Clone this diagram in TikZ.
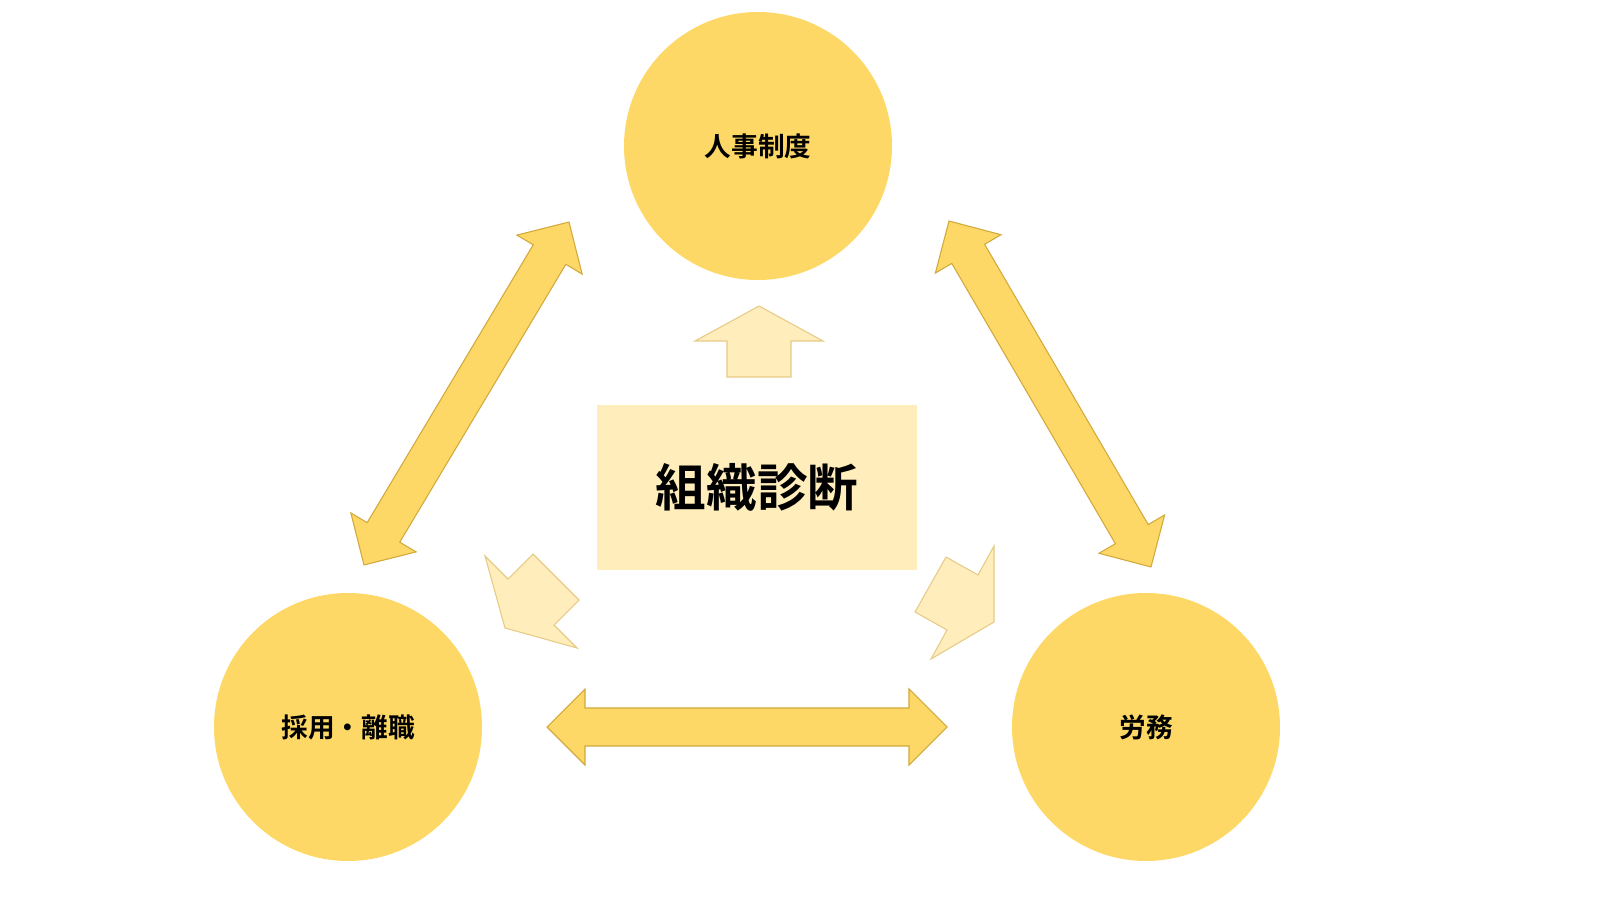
\documentclass[tikz,border=0pt]{standalone}
\usepackage{fontspec}
\setmainfont{Noto Sans CJK JP}[BoldFont={* Bold}]
\usetikzlibrary{calc}
\definecolor{circ}{HTML}{FDD866}
\definecolor{darkedge}{HTML}{D2A93C}
\definecolor{light}{HTML}{FFEDBB}
\definecolor{lightedge}{HTML}{E6CB86}
\tikzset{
  bub/.style={circle,fill=circ,minimum size=268*0.75pt,inner sep=0,font=\bfseries\fontsize{20}{24}\selectfont},
  big/.style={fill=circ,draw=darkedge,line width=0.8pt,line join=miter},
  lt/.style={fill=light,draw=lightedge,line width=0.8pt},
}
\newcommand\myarrow[2]{%
 \draw[big] (#1) -- ($($(#1)!0.095!(#2)$)!28.5pt!90:(#2)$) -- ($($(#1)!0.095!(#2)$)!14.25pt!90:(#2)$)
  -- ($($(#1)!0.905!(#2)$)!14.25pt!-90:(#1)$) -- ($($(#1)!0.905!(#2)$)!28.5pt!-90:(#1)$) -- (#2)
  -- ($($(#1)!0.905!(#2)$)!28.5pt!90:(#1)$) -- ($($(#1)!0.905!(#2)$)!14.25pt!90:(#1)$)
  -- ($($(#1)!0.095!(#2)$)!14.25pt!-90:(#2)$) -- ($($(#1)!0.095!(#2)$)!28.5pt!-90:(#2)$) -- cycle;}
\begin{document}
\begin{tikzpicture}[x=0.75pt,y=-0.75pt]
\useasboundingbox (0,0) rectangle (1600,902);
\node[bub] (top) at (758,146) {人事制度};
\node[bub] (bl) at (348,727) {採用・離職};
\node[bub] (br) at (1146,727) {労務};
\node[fill=light,minimum width=320*0.75pt,minimum height=165*0.75pt,font=\bfseries\fontsize{38}{44}\selectfont] (c) at (757,487) {組織診断};
\coordinate (l1) at (364,565); \coordinate (l2) at (569,222);
\coordinate (r1) at (949,221); \coordinate (r2) at (1151,567);
\coordinate (h1) at (547,727); \coordinate (h2) at (947,727);
\myarrow{l1}{l2}
\myarrow{r1}{r2}
\myarrow{h1}{h2}
\draw[lt] (759,306) -- (823,341) -- (791,341) -- (791,377) -- (727,377) -- (727,341) -- (695,341) -- cycle;
\draw[lt] (485,556) -- (508,579) -- (533,554) -- (579,600) -- (554,625) -- (577,648) -- (505,628) -- cycle;
\draw[lt] (946,557) -- (978,575) -- (994,546) -- (994,622) -- (931,659) -- (947,630) -- (915,612) -- cycle;
\end{tikzpicture}
\end{document}
